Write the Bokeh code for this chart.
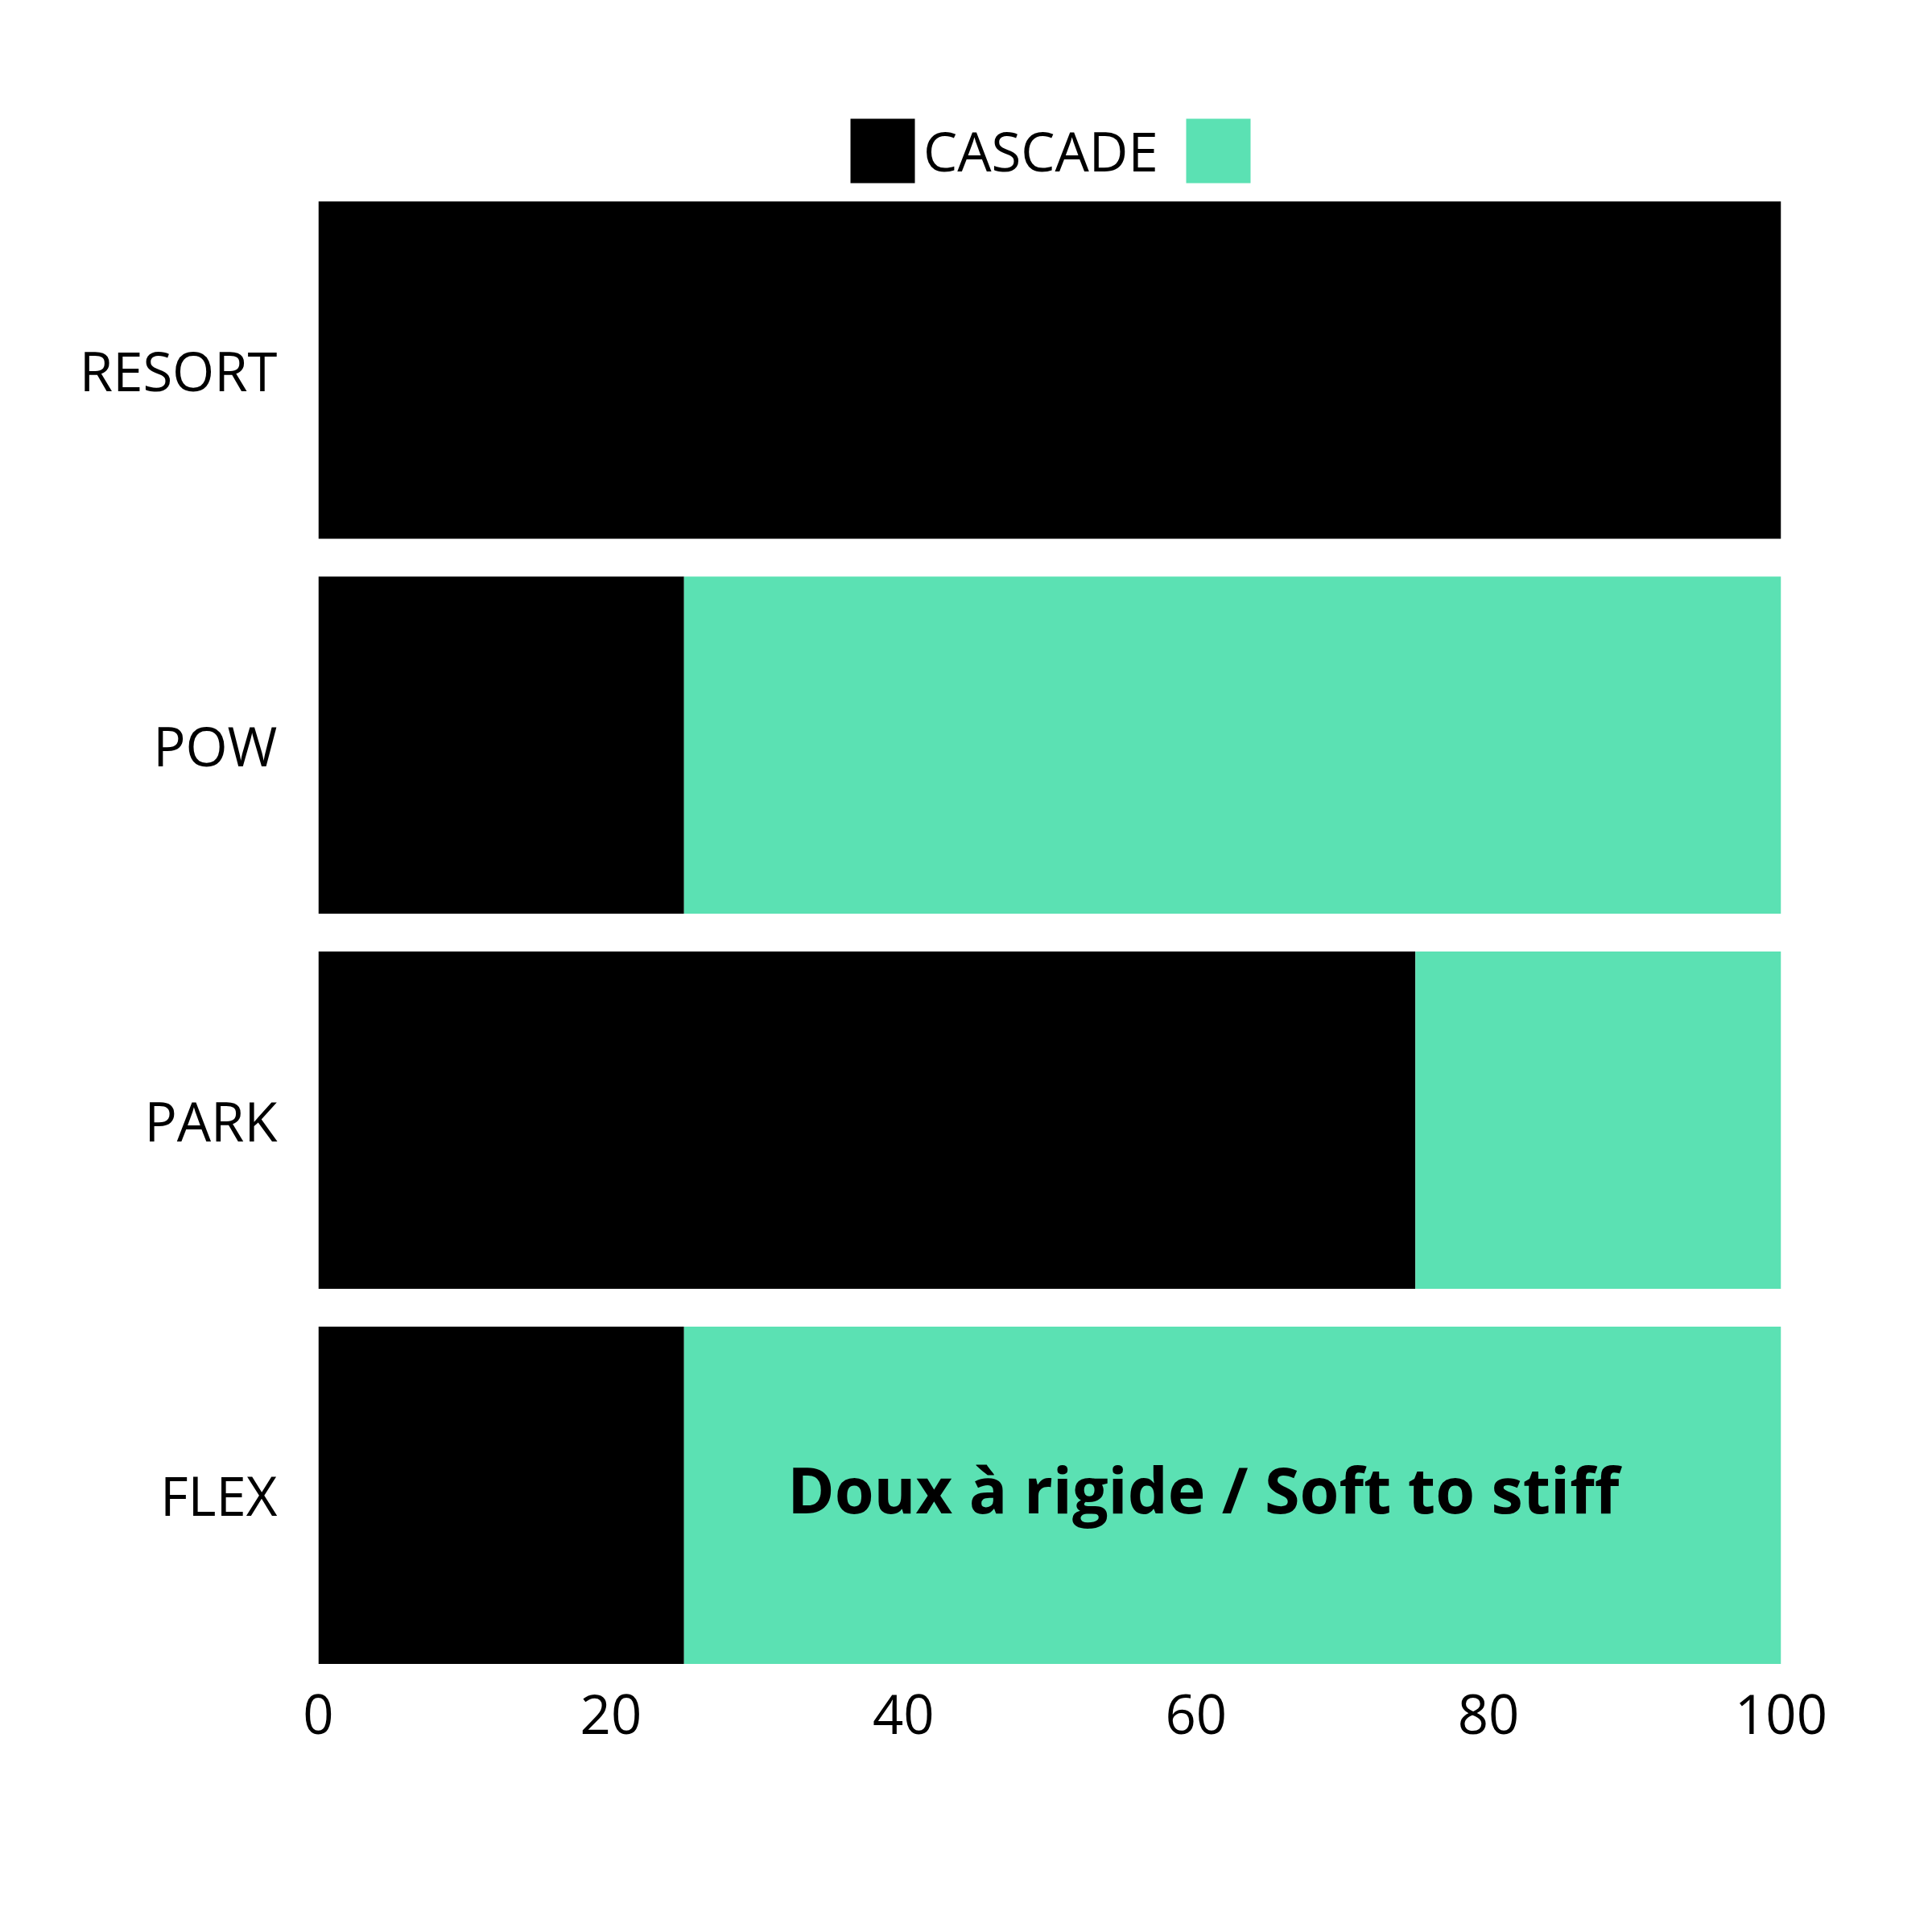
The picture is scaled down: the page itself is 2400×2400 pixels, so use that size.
from bokeh.plotting import figure
from bokeh.models import Range1d, Legend, LegendItem, FixedTicker, ColumnDataSource
from bokeh.core.properties import value
from bokeh.embed import file_html
from bokeh.resources import INLINE

categories = ["FLEX", "PARK", "POW", "RESORT"]
cascade = [25, 75, 25, 100]
rest = [75, 25, 75, 0]
x_ticks = [0, 20, 40, 60, 80, 100]
series_labels = ["CASCADE", ""]
colors = ["#000000", "#5BE1B3"]
note = "Doux à rigide / Soft to stiff"
note_cat = "FLEX"
note_x = 60.5

FONT = "Open Sans"

pos = list(range(len(categories)))
src = ColumnDataSource(dict(pos=pos, cat=categories, cascade=cascade, rest=rest))

p = figure(width=2400, height=2400,
           y_range=Range1d(-0.498, 3.728),
           x_range=Range1d(0, 100),
           output_backend="svg", toolbar_location=None,
           min_border_left=395, min_border_right=188,
           min_border_top=120, min_border_bottom=311)
p.outline_line_color = None
p.background_fill_color = "white"
p.border_fill_color = "white"
p.xgrid.grid_line_color = None
p.ygrid.grid_line_color = None

rs = p.hbar_stack(["cascade", "rest"], y="pos", height=0.899, color=colors,
                  line_color=None, source=src)

p.text(x=[note_x], y=[categories.index(note_cat)], text=[note], text_font=value(FONT),
       text_font_style="bold", text_font_size="79px", text_align="center",
       text_baseline="middle", text_color="#000000", y_offset=-8)

legend = Legend(items=[LegendItem(label=value(series_labels[0]), renderers=[rs[0]]),
                       LegendItem(label=value(series_labels[1]), renderers=[rs[1]])],
                orientation="horizontal", location=(651, 1852),
                glyph_width=100, glyph_height=100, label_standoff=1, spacing=24,
                padding=0, margin=0, border_line_color=None,
                background_fill_alpha=0,
                label_text_font=FONT, label_text_font_size="67px",
                label_text_color="#000000")
p.add_layout(legend, "center")

p.xaxis.ticker = FixedTicker(ticks=x_ticks)
p.yaxis.ticker = FixedTicker(ticks=pos)
p.yaxis.major_label_overrides = {i: c for i, c in zip(pos, categories)}
for ax in (p.xaxis, p.yaxis):
    ax.axis_line_color = None
    ax.major_tick_line_color = None
    ax.minor_tick_line_color = None
    ax.major_tick_out = 0
    ax.major_tick_in = 0
    ax.major_label_text_font = FONT
    ax.major_label_text_font_size = "67px"
    ax.major_label_text_color = "#000000"
p.yaxis.major_label_standoff = 51
p.xaxis.major_label_standoff = 15

open("out.html", "w").write(file_html(p, INLINE))
